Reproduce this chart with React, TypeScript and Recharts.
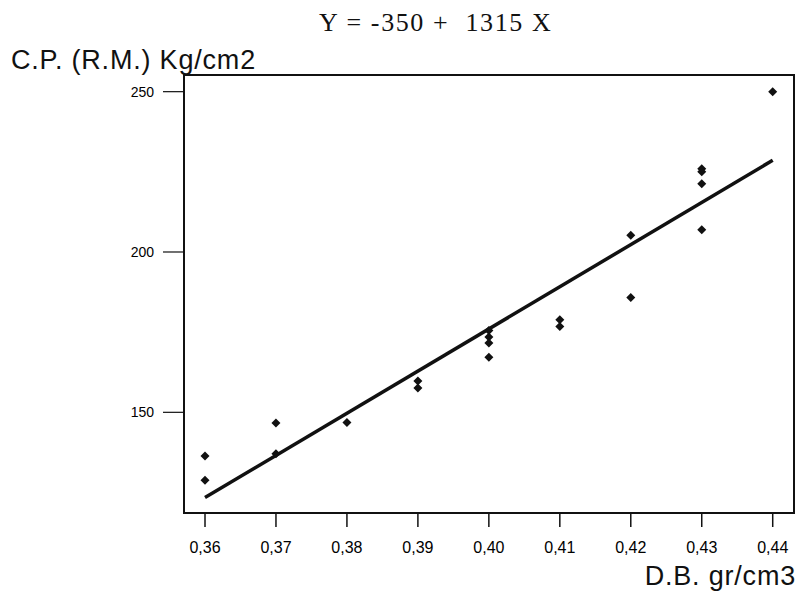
import React from "react";
import {
  ScatterChart,
  Scatter,
  XAxis,
  YAxis,
  ReferenceArea,
} from "recharts";

// density (gr/cm3) vs compression strength (kg/cm2)
const densities = [
  0.36, 0.36, 0.37, 0.37, 0.38, 0.39, 0.39, 0.4, 0.4, 0.4, 0.4, 0.41, 0.41,
  0.42, 0.42, 0.43, 0.43, 0.43, 0.43, 0.44,
];
const strengths = [
  136.4, 128.8, 146.7, 137.1, 146.8, 159.8, 157.6, 175.5, 173.5, 171.6, 167.2,
  178.9, 176.8, 185.8, 205.2, 226, 225, 221.3, 206.9, 250,
];

// fitted line end points
const fitX = [0.36, 0.44];
const fitY = [123.4, 228.6];

const xTicks = [0.36, 0.37, 0.38, 0.39, 0.4, 0.41, 0.42, 0.43, 0.44];
const yTicks = [150, 200, 250];

const X_DOMAIN: [number, number] = [0.35704, 0.443];
const Y_DOMAIN: [number, number] = [118.6, 255.2];

const points = densities.map((x, i) => ({ x, y: strengths[i] }));
const fitLine = fitX.map((x, i) => ({ x, y: fitY[i] }));

const narrow = "Liberation Sans Narrow, Arial Narrow, sans-serif";

const labelStyle: React.CSSProperties = {
  position: "absolute",
  fontFamily: "Liberation Sans, Arial, sans-serif",
  fontSize: 27,
  letterSpacing: 0.8,
  color: "#111",
  whiteSpace: "pre",
  lineHeight: 1,
};

function Dot(props: any) {
  const { cx, cy } = props;
  if (cx == null || cy == null) return null;
  const r = 4.5;
  return (
    <path
      d={`M${cx},${cy - r}L${cx + r},${cy}L${cx},${cy + r}L${cx - r},${cy}Z`}
      fill="#111"
    />
  );
}

export default function App() {
  return (
    <div
      style={{
        position: "absolute",
        left: 0,
        top: 0,
        width: 802,
        height: 600,
        background: "#fff",
      }}
    >
      <div
        style={{
          position: "absolute",
          left: 319,
          top: 10,
          fontFamily: "Liberation Serif, Times New Roman, serif",
          fontSize: 26,
          letterSpacing: 1.6,
          color: "#111",
          whiteSpace: "pre",
          lineHeight: 1,
        }}
      >
        {"Y = -350 +  1315 X"}
      </div>
      <div style={{ ...labelStyle, left: 11, top: 47 }}>C.P. (R.M.) Kg/cm2</div>
      <div style={{ ...labelStyle, right: 6, top: 563 }}>D.B. gr/cm3</div>
      <ScatterChart
        width={802}
        height={600}
        margin={{ top: 75, right: 8, bottom: 47, left: 124 }}
      >
        <XAxis
          type="number"
          dataKey="x"
          domain={X_DOMAIN}
          ticks={xTicks}
          allowDataOverflow
          tickFormatter={(v: number) => v.toFixed(2).replace(".", ",")}
          tick={{ fontFamily: narrow, fontSize: 16, fill: "#000" }}
          tickSize={14}
          tickMargin={15}
          axisLine={{ stroke: "#111", strokeWidth: 2 }}
          tickLine={{ stroke: "#111", strokeWidth: 1.5 }}
          height={40}
        />
        <YAxis
          type="number"
          dataKey="y"
          domain={Y_DOMAIN}
          ticks={yTicks}
          allowDataOverflow
          tick={{ fontFamily: narrow, fontSize: 14, fill: "#000" }}
          tickSize={21}
          tickMargin={9}
          axisLine={{ stroke: "#111", strokeWidth: 2 }}
          tickLine={{ stroke: "#111", strokeWidth: 1.2 }}
          width={60}
        />
        <ReferenceArea
          x1={X_DOMAIN[0]}
          x2={X_DOMAIN[1]}
          y1={Y_DOMAIN[0]}
          y2={Y_DOMAIN[1]}
          fill="none"
          stroke="#111"
          strokeWidth={2}
          ifOverflow="extendDomain"
        />
        <Scatter
          data={fitLine}
          line={{ stroke: "#111", strokeWidth: 3.5 }}
          shape={() => null}
          isAnimationActive={false}
        />
        <Scatter data={points} shape={<Dot />} isAnimationActive={false} />
      </ScatterChart>
    </div>
  );
}
